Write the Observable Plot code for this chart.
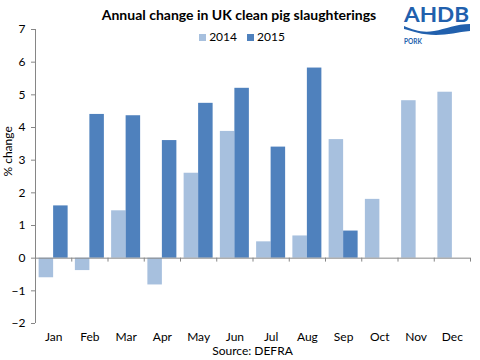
<!DOCTYPE html>
<html>
<head>
<meta charset="utf-8">
<script src="https://cdn.jsdelivr.net/npm/d3@7"></script>
<script src="https://cdn.jsdelivr.net/npm/@observablehq/plot@0.6"></script>
<style>
  html, body { margin: 0; padding: 0; background: #fff; }
  #wrap { position: relative; width: 480px; height: 360px; font-family: Lato, "Open Sans", sans-serif; color: #000; }
  #title { position: absolute; left: 0; width: 478px; top: 6px; text-align: center; font-weight: bold; font-size: 14px; }
  #legend { position: absolute; left: 0; width: 484px; top: 29px; text-align: center; font-size: 12px; }
  #legend span.sw { display: inline-block; width: 7px; height: 7px; margin-right: 3px; vertical-align: 0px; }
  #legend span.it { margin: 0 5px; }
  #source { position: absolute; left: 35px; width: 435px; top: 343px; text-align: center; font-size: 12px; }
  #logo { position: absolute; left: 400px; top: 0px; }
  #chart { position: absolute; left: 0; top: 0; }
</style>
</head>
<body>
<div id="wrap">
  <div id="chart"></div>
  <div id="title">Annual change in UK clean pig slaughterings</div>
  <div id="legend"></div>
  <div id="source">Source: DEFRA</div>
  <svg id="logo" width="80" height="50">
    <text x="4" y="22" font-family="Lato, 'Open Sans', sans-serif" font-weight="bold" font-size="20" fill="#2160ad" textLength="65" lengthAdjust="spacingAndGlyphs">AHDB</text>
    <path d="M4,26 C14,30 22,33 34,31 C46,29 56,24 70,24 L70,31 C58,32 48,35 36,35 C22,35 12,31 4,29 Z" fill="#2160ad"/>
    <text x="4" y="44" font-family="Lato, 'Open Sans', sans-serif" font-weight="bold" font-size="6.5" fill="#2160ad">PORK</text>
  </svg>
</div>
<script>
const months = ["Jan","Feb","Mar","Apr","May","Jun","Jul","Aug","Sep","Oct","Nov","Dec"];
const series = ["2014", "2015"];
const values2014 = [-0.6, -0.38, 1.45, -0.82, 2.6, 3.88, 0.5, 0.68, 3.63, 1.8, 4.82, 5.08];
const values2015 = [1.6, 4.4, 4.36, 3.6, 4.74, 5.2, 3.4, 5.82, 0.83, null, null, null];
const colors = ["#a7c0de", "#4f81bd"];
const yTicks = [-2, -1, 0, 1, 2, 3, 4, 5, 6, 7];

// legend
const leg = document.getElementById("legend");
series.forEach((s, i) => {
  const it = document.createElement("span");
  it.className = "it";
  it.innerHTML = `<span class="sw" style="background:${colors[i]}"></span>${s}`;
  leg.appendChild(it);
});

// data table
const data = [];
months.forEach((m, i) => {
  [values2014, values2015].forEach((vals, k) => {
    if (vals[i] != null) data.push({month: m, idx: i, series: series[k], value: vals[i], k});
  });
});

const barW = 0.4, pad = 0.1;
const plot = Plot.plot({
  width: 480,
  height: 360,
  marginLeft: 35,
  marginRight: 10,
  marginTop: 29,
  marginBottom: 37,
  style: {fontFamily: "Lato, 'Open Sans', sans-serif", fontSize: "11px", color: "#000"},
  x: {domain: [0, months.length], axis: null},
  y: {domain: [-2, 7], axis: null},
  color: {domain: series, range: colors},
  marks: [
    Plot.rectY(data, {
      x1: d => d.idx + pad + d.k * barW,
      x2: d => d.idx + pad + (d.k + 1) * barW,
      y1: 0,
      y2: "value",
      fill: "series"
    }),
    Plot.ruleY([0], {stroke: "#868686", strokeWidth: 1}),
    Plot.ruleX([0], {y1: -2, y2: 7, stroke: "#868686", strokeWidth: 1}),
    Plot.axisY(yTicks, {tickSize: 4, tickPadding: 6, stroke: "#868686", fill: "#000", label: null, fontSize: 12}),
    // category boundary ticks hanging below the zero line
    Plot.ruleX(d3.range(1, months.length + 1), {y1: 0, y2: -0.12, stroke: "#868686", strokeWidth: 1}),
    Plot.axisX(months.map((m, i) => i + 0.5), {tickSize: 0, tickPadding: 9, tickFormat: (d) => months[Math.floor(d)], label: null, fontSize: 12}),
    Plot.text(["% change"], {frameAnchor: "left", rotate: -90, dx: -27, fontSize: 12})
  ]
});
document.getElementById("chart").appendChild(plot);
</script>
</body>
</html>
